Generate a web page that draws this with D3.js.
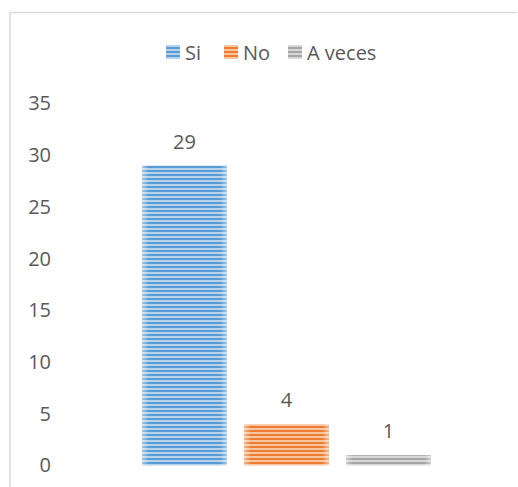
<!DOCTYPE html>
<html>
<head>
<meta charset="utf-8">
<style>
  body { margin: 0; background: #fff; }
  text { font-family: "Open Sans", "Liberation Sans", sans-serif; fill: #595959; }
</style>
<script src="https://cdn.jsdelivr.net/npm/d3@7"></script>
</head>
<body>
<script>
// data
var categories = ["Si", "No", "A veces"];
var values = [29, 4, 1];
var colors = ["#5b9bd5", "#ed7d31", "#a5a5a5"];
var yTicks = [0, 5, 10, 15, 20, 25, 30, 35];

var W = 518, H = 487;
var svg = d3.select("body").append("svg")
    .attr("width", W).attr("height", H);

var defs = svg.append("defs");

// striped fill, one per series
colors.forEach(function(c, i) {
  var p = defs.append("pattern")
      .attr("id", "stripe" + i)
      .attr("patternUnits", "userSpaceOnUse")
      .attr("width", 8).attr("height", 4);
  p.append("rect").attr("width", 8).attr("height", 4)
      .attr("fill", d3.interpolateRgb(c, "#fff")(0.55));
  p.append("rect").attr("y", 2).attr("width", 8).attr("height", 2)
      .attr("fill", c);
});

// soft light edges on the bars
var g = defs.append("linearGradient").attr("id", "edge");
[[0, 0.45], [0.08, 0], [0.92, 0], [1, 0.45]].forEach(function(s) {
  g.append("stop").attr("offset", s[0])
      .attr("stop-color", "#fff").attr("stop-opacity", s[1]);
});

// chart frame (only top and left visible)
svg.append("path")
    .attr("d", "M10,487V12.5H517")
    .attr("fill", "none")
    .attr("stroke", "#d9d9d9")
    .attr("stroke-width", 1.5);

var y = d3.scaleLinear().domain([0, 35]).range([465.5, 103.5]);
var x = d3.scaleBand().domain(categories).range([142, 431]).paddingInner(17 / 102).paddingOuter(0);

// y axis labels
var yAxis = d3.axisLeft(y).tickValues(yTicks).tickSize(0).tickPadding(0);
var ax = svg.append("g").attr("transform", "translate(51,0)").call(yAxis);
ax.select(".domain").remove();
ax.selectAll("text")
    .attr("fill", "#595959")
    .style("font-size", "20px")
    .style("font-family", "'Open Sans', sans-serif");

// bars
var bars = svg.append("g").selectAll("g")
    .data(values)
    .enter().append("g");

bars.append("rect")
    .attr("x", function(d, i) { return x(categories[i]); })
    .attr("y", function(d) { return y(d); })
    .attr("width", x.bandwidth())
    .attr("height", function(d) { return y(0) - y(d); })
    .attr("fill", function(d, i) { return "url(#stripe" + i + ")"; });

bars.append("rect")
    .attr("x", function(d, i) { return x(categories[i]); })
    .attr("y", function(d) { return y(d); })
    .attr("width", x.bandwidth())
    .attr("height", function(d) { return y(0) - y(d); })
    .attr("fill", "url(#edge)");

// data labels
bars.append("text")
    .attr("x", function(d, i) { return x(categories[i]) + x.bandwidth() / 2; })
    .attr("y", function(d) { return y(d) - 17; })
    .attr("text-anchor", "middle")
    .style("font-size", "20px")
    .text(function(d) { return d; });

// legend
var legendX = [166, 224, 288];
var legend = svg.append("g").selectAll("g")
    .data(categories)
    .enter().append("g")
    .attr("transform", function(d, i) { return "translate(" + legendX[i] + ",45)"; });

legend.append("rect")
    .attr("width", 14).attr("height", 14)
    .attr("fill", function(d, i) { return "url(#stripe" + i + ")"; });

legend.append("text")
    .attr("x", 19).attr("y", 14.5)
    .style("font-size", "20px")
    .text(function(d) { return d; });
</script>
</body>
</html>
